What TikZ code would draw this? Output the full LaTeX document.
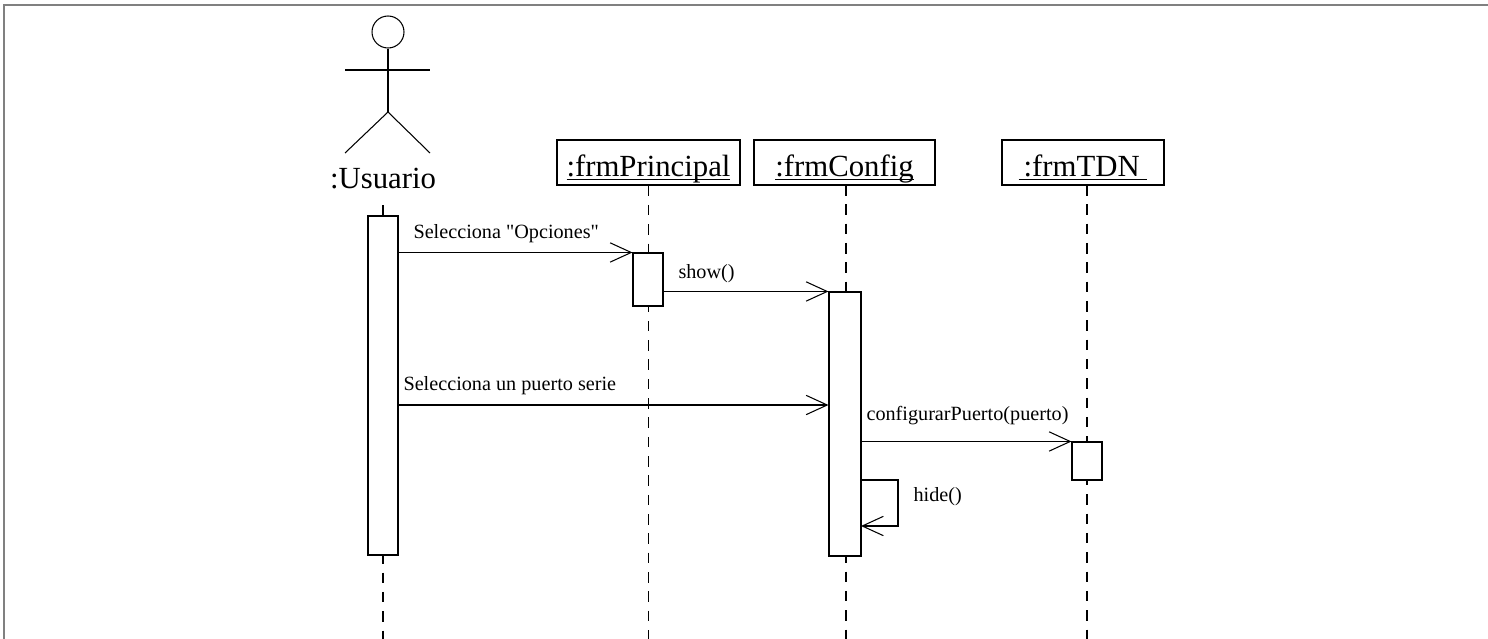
\documentclass[tikz,border=0pt]{standalone}
\usepackage{fontspec}
\setmainfont{Liberation Serif}[Ligatures=TeXOff]
\usetikzlibrary{arrows.meta,positioning,fit}

\newcommand{\objname}[1]{\underline{\smash{#1}}}

\begin{document}
\begin{tikzpicture}[x=0.02cm,y=-0.02cm,>={Straight Barb[length=12pt,width=11pt]},
   line width=0.6pt,
   obj/.style={draw,rectangle,minimum height=0.9cm,inner sep=0pt,
     text height=20pt,text depth=3.5pt,font=\fontsize{17.5}{20}\selectfont},
   act/.style={draw,fill=white,rectangle,inner sep=0pt},
   life/.style={dash pattern=on 6pt off 5pt},
   lbl/.style={font=\fontsize{11.5}{13}\selectfont,anchor=base west,inner sep=0pt}]
 \useasboundingbox (0,0) rectangle (1488,639);
 % frame (only top and left edges are visible)
 \draw[gray,line width=1.1pt] (4,639) -- (4,5) -- (1488,5);
 \coordinate (bot) at (0,639);   % lower end of the lifelines
 % actor
 \node[draw,circle,inner sep=0pt,minimum size=0.64cm] (head) at (388,32) {};
 \coordinate (hip) at (388,112);
 \draw (head.south) -- (hip);
 \draw (345,70) -- (430,70);
 \draw (345,153) -- (hip) -- (430,153);
 \node[font=\fontsize{17.5}{20}\selectfont,anchor=base] (usr) at (383,188) {:Usuario};
 % objects
 \node[obj,minimum width=3.66cm] (prin) at (648.5,162.5) {\objname{:frmPrincipal}};
 \node[obj,minimum width=3.62cm] (conf) at (844.5,162.5) {\objname{:frmConfig}};
 \node[obj,minimum width=3.24cm] (tdn)  at (1083,162.5)  {\objname{\,:frmTDN\ }};
 % lifelines
 \draw[life] ([yshift=-6pt]usr.south) -- (usr.south |- bot);
 \draw[life] (prin.south) -- (prin.south |- bot);
 \draw[life] (846,185) -- (846,639);
 \draw[life] (1087,185) -- (1087,639);
 % activations
 \node[act,fit={(368,216) (398,555)}] (ua) {};
 \node[act,fit={(633,253) (663,306)}] (pa) {};
 \node[act,fit={(829,292) (861,556)}] (ca) {};
 \node[act,fit={(1072,442) (1102,480)}] (ta) {};
 % messages
 \draw[->] (ua.east |- pa.north) -- (pa.north west);
 \node[lbl] (m1) at (413,238) {Selecciona "Opciones"};
 \draw[->] (pa.east |- ca.north) -- (ca.north west);
 \node[lbl] (m2) at (678,278) {show()};
 \coordinate (sel) at (398,405);
 \draw[->] (sel) -- (ca.west |- sel);
 \node[lbl] (m3) at (403,390) {Selecciona un puerto serie};
 \draw[->] (ca.east |- ta.north) -- (ta.north west);
 \node[lbl] (m4) at (866,420) {configurarPuerto(puerto)};
 % self call
 \coordinate (hs) at (861,480);
 \coordinate (he) at (861,526);
 \draw[->] (hs) -- ++(37,0) |- (he);
 \node[lbl,anchor=west] (m5) at (913,497) {hide()};
\end{tikzpicture}
\end{document}
